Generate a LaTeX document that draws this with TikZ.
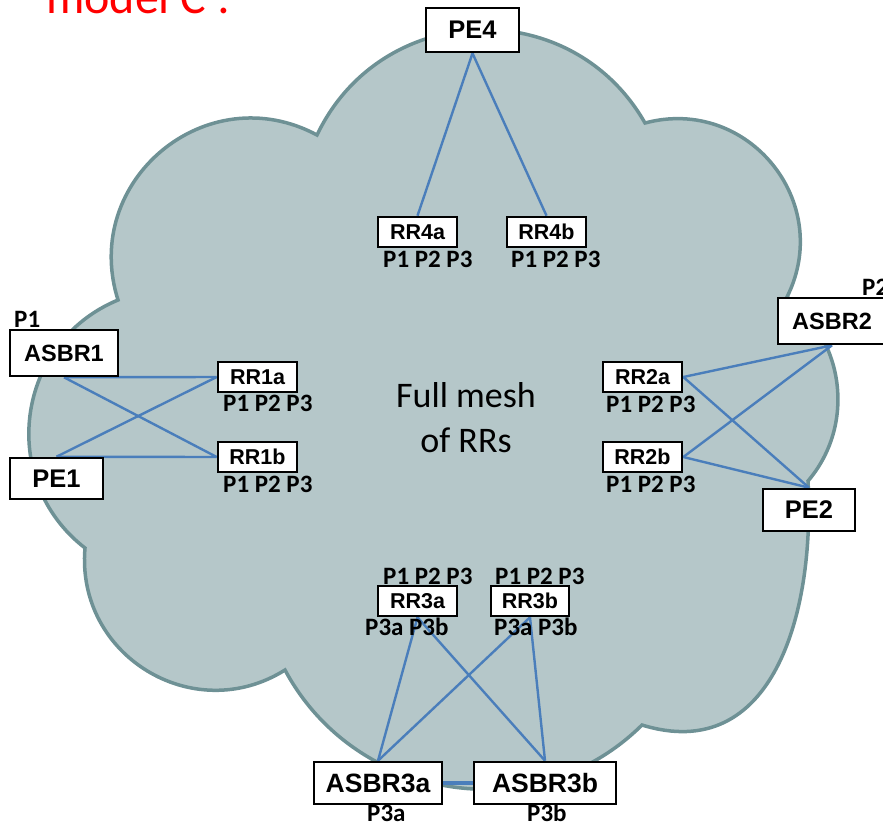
\documentclass[tikz,border=0pt]{standalone}
\usepackage{fontspec}
\setmainfont{Liberation Sans}
\newfontfamily\carl{Carlito}
\pgfdeclarelayer{bg}
\pgfsetlayers{bg,main}
\definecolor{cloudfill}{RGB}{181,199,201}
\definecolor{cloudline}{RGB}{110,145,149}
\definecolor{linkblue}{RGB}{74,126,187}
\begin{document}
\begin{tikzpicture}[x=1pt,y=1pt,yscale=-1,
  box/.style={draw=black, line width=2.6pt, fill=white, inner sep=0pt,
    font=\bfseries\fontsize{25.5}{30}\selectfont},
  rrbox/.style={box, minimum width=79pt, minimum height=30pt,
    font=\bfseries\fontsize{21.5}{25}\selectfont},
  asbrfont/.style={font=\bfseries\fontsize{23.5}{28}\selectfont},
  asbr3font/.style={font=\bfseries\fontsize{26.5}{30}\selectfont},
  plab/.style={anchor=base west, inner sep=0pt,
    font=\carl\bfseries\fontsize{25}{30}\selectfont},
  meshtext/.style={anchor=base, inner sep=0pt,
    font=\carl\fontsize{36}{44}\selectfont},
  link/.style={draw=linkblue, line width=2.4pt},
  thicklink/.style={draw=linkblue, line width=3.5pt}]
\useasboundingbox (0,0) rectangle (883,828);

% title (cut at the top edge, as in the reference)
\node[anchor=base west, inner sep=0pt, text=red,
  font=\carl\fontsize{48}{52}\selectfont] (title) at (46,13) {model C :};

% boxes
\node[box, minimum width=93pt, minimum height=44pt] (pe4) at (472.5,30) {PE4};
\node[rrbox] (rr4a) at (417.5,232) {RR4a};
\node[rrbox] (rr4b) at (546.5,232) {RR4b};
\node[box, asbrfont, minimum width=108pt, minimum height=46pt] (asbr1) at (64,353) {ASBR1};
\node[rrbox] (rr1a) at (257.5,377) {RR1a};
\node[rrbox] (rr1b) at (257.5,457) {RR1b};
\node[box, minimum width=93pt, minimum height=41pt] (pe1) at (56.5,478.5) {PE1};
\node[rrbox] (rr2a) at (642.5,377) {RR2a};
\node[rrbox] (rr2b) at (642.5,457) {RR2b};
\node[box, asbrfont, minimum width=108pt, minimum height=46pt] (asbr2) at (832,321) {ASBR2};
\node[box, minimum width=92pt, minimum height=42pt] (pe2) at (809,510) {PE2};
\node[rrbox] (rr3a) at (417.5,601) {RR3a};
\node[rrbox, minimum width=78pt] (rr3b) at (530,601) {RR3b};
\node[box, asbr3font, minimum width=128pt, minimum height=42pt] (asbr3a) at (378,783) {ASBR3a};
\node[box, asbr3font, minimum width=142pt, minimum height=42pt] (asbr3b) at (545,783) {ASBR3b};

% port labels
\node[plab] (l4a) at (383,267) {P1 P2 P3};
\node[plab] (l4b) at (511,267) {P1 P2 P3};
\node[plab] (l1a) at (223,411) {P1 P2 P3};
\node[plab] (l1b) at (223,492) {P1 P2 P3};
\node[plab] (l2a) at (606,412) {P1 P2 P3};
\node[plab] (l2b) at (606,492) {P1 P2 P3};
\node[plab] (l3at) at (383,584) {P1 P2 P3};
\node[plab] (l3bt) at (495,584) {P1 P2 P3};
\node[plab] (l3ab) at (365,635) {P3a P3b};
\node[plab] (l3bb) at (494,635) {P3a P3b};
\node[plab] (lp1) at (14,327) {P1};
\node[plab] (lp2) at (862,295) {P2};
\node[plab] (lp3a) at (367,821) {P3a};
\node[plab] (lp3b) at (527,821) {P3b};

% centre text
\node[meshtext] (mesh1) at (466,407) {Full mesh};
\node[meshtext] (mesh2) at (466,452) {of RRs};

\begin{pgfonlayer}{bg}
  % cloud
  \draw[fill=cloudfill, draw=cloudline, line width=3.5pt, line join=miter]
    (118,300)
    .. controls (80.3,180.6) and (206.7,75.8) .. (317,135)
    .. controls (381.4,0.1) and (570.9,-6.9) .. (645,123)
    .. controls (747.5,95.6) and (834.5,202.0) .. (787,297)
    .. controls (845.5,341.4) and (855.1,425.6) .. (808,481)
    .. controls (815,615) and (772,765) .. (642,725)
    .. controls (535,831) and (355.3,801.2) .. (285,670)
    .. controls (193.5,727.4) and (75.7,655.6) .. (85,548)
    .. controls (-2.8,480) and (15.4,342.6) .. (118,300) -- cycle;
  % connectors
  \draw[link] (pe4.south) -- (rr4a.north);
  \draw[link] (pe4.south) -- (rr4b.north);
  \draw[link] (asbr1.south) -- (rr1a.west);
  \draw[link] (asbr1.south) -- (rr1b.west);
  \draw[link] (pe1.north) -- (rr1a.west);
  \draw[link] (pe1.north) -- (rr1b.west);
  \draw[link] (asbr2.south) -- (rr2a.east);
  \draw[link] (asbr2.south) -- (rr2b.east);
  \draw[link] (pe2.north) -- (rr2a.east);
  \draw[link] (pe2.north) -- (rr2b.east);
  \draw[link] (rr3a.south) -- (asbr3a.north);
  \draw[link] (rr3a.south) -- (asbr3b.north);
  \draw[link] (rr3b.south) -- (asbr3a.north);
  \draw[link] (rr3b.south) -- (asbr3b.north);
  \draw[thicklink] (asbr3a.east) -- (asbr3b.west);
\end{pgfonlayer}
\end{tikzpicture}
\end{document}
